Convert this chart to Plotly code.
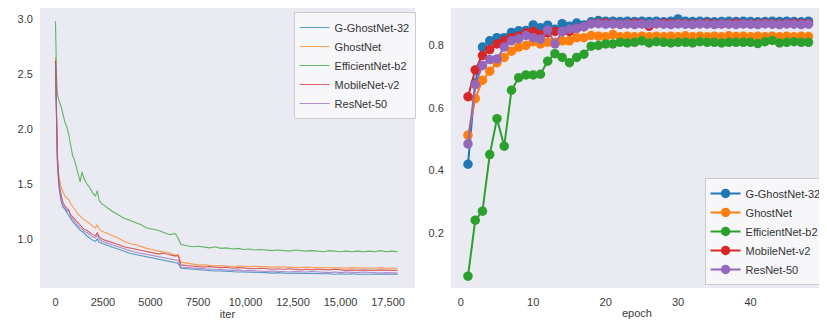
import plotly.graph_objects as go

# ---------------- data ----------------
model_names = ["G-GhostNet-32", "GhostNet", "EfficientNet-b2", "MobileNet-v2", "ResNet-50"]
colors = ["#1f77b4", "#ff7f0e", "#2ca02c", "#d62728", "#9467bd"]

iters = [0, 30, 60, 100, 150, 200, 300, 400, 500, 600, 700, 800, 900, 1000, 1100, 1200, 1300, 1400,
         1500, 1650, 1800, 1950, 2100, 2200, 2300, 2450, 2600, 2800, 3000,
         3300, 3600, 3900, 4200, 4500, 4800, 5100, 5400, 5700, 6000, 6300, 6450,
         6600, 6900, 7200, 7500, 7800, 8100, 8400, 8700, 9000, 9300, 9600, 9900, 10200, 10500,
         10800, 11100, 11400, 11700, 12000, 12300, 12600, 12900, 13200, 13500, 13800, 14100,
         14400, 14700, 15000, 15300, 15600, 15900, 16200, 16500, 16800, 17100, 17400, 17700, 18000]

loss_gghost = [2.58, 2.22, 1.92, 1.70, 1.56, 1.45, 1.34, 1.29, 1.27, 1.24, 1.22, 1.18, 1.16, 1.14, 1.12, 1.09, 1.08, 1.07,
               1.05, 1.03, 1.01, 0.99, 0.98, 1.00, 0.97, 0.96, 0.95, 0.935, 0.925,
               0.91, 0.89, 0.87, 0.86, 0.85, 0.84, 0.83, 0.82, 0.81, 0.80, 0.79, 0.78,
               0.735, 0.73, 0.725, 0.72, 0.715, 0.715, 0.71, 0.71, 0.705, 0.705, 0.70, 0.70, 0.70, 0.695,
               0.695, 0.695, 0.69, 0.695, 0.69, 0.69, 0.69, 0.685, 0.69, 0.685, 0.685, 0.685,
               0.685, 0.68, 0.685, 0.68, 0.685, 0.68, 0.68, 0.68, 0.685, 0.68, 0.68, 0.68, 0.68]
loss_ghost = [2.65, 2.35, 2.05, 1.80, 1.62, 1.55, 1.47, 1.43, 1.39, 1.37, 1.36, 1.32, 1.30, 1.27, 1.25, 1.22, 1.21, 1.19,
              1.18, 1.16, 1.14, 1.12, 1.10, 1.13, 1.09, 1.07, 1.06, 1.04, 1.03,
              1.01, 0.98, 0.96, 0.95, 0.93, 0.915, 0.905, 0.89, 0.885, 0.875, 0.85, 0.86,
              0.79, 0.78, 0.775, 0.765, 0.765, 0.76, 0.755, 0.76, 0.755, 0.75, 0.755, 0.75, 0.75, 0.752,
              0.748, 0.75, 0.745, 0.748, 0.745, 0.748, 0.742, 0.74, 0.745, 0.74, 0.742, 0.74,
              0.738, 0.742, 0.738, 0.736, 0.74, 0.738, 0.735, 0.738, 0.735, 0.74, 0.735, 0.737, 0.735]
loss_effnet = [2.98, 2.65, 2.45, 2.32, 2.28, 2.25, 2.20, 2.12, 2.06, 2.02, 1.95, 1.85, 1.76, 1.72, 1.66, 1.58, 1.52, 1.61,
               1.55, 1.50, 1.47, 1.42, 1.39, 1.44, 1.35, 1.32, 1.30, 1.27, 1.25,
               1.22, 1.19, 1.17, 1.15, 1.13, 1.10, 1.09, 1.08, 1.06, 1.04, 1.05, 1.01,
               0.95, 0.94, 0.93, 0.935, 0.925, 0.92, 0.93, 0.915, 0.92, 0.91, 0.915, 0.905, 0.91, 0.90,
               0.905, 0.90, 0.895, 0.90, 0.895, 0.89, 0.90, 0.895, 0.89, 0.895, 0.89, 0.885,
               0.895, 0.89, 0.885, 0.89, 0.885, 0.89, 0.885, 0.89, 0.885, 0.895, 0.885, 0.89, 0.885]
loss_mobilenet = [2.62, 2.30, 1.98, 1.75, 1.60, 1.50, 1.40, 1.33, 1.30, 1.28, 1.26, 1.22, 1.20, 1.18, 1.16, 1.14, 1.12, 1.11,
                  1.09, 1.08, 1.06, 1.04, 1.03, 1.06, 1.02, 1.00, 0.99, 0.98, 0.97,
                  0.95, 0.93, 0.92, 0.905, 0.895, 0.885, 0.875, 0.865, 0.87, 0.855, 0.845, 0.85,
                  0.765, 0.76, 0.755, 0.75, 0.745, 0.75, 0.745, 0.74, 0.745, 0.735, 0.74, 0.735, 0.735, 0.73,
                  0.735, 0.73, 0.725, 0.73, 0.725, 0.73, 0.725, 0.72, 0.725, 0.72, 0.725, 0.72,
                  0.72, 0.725, 0.72, 0.715, 0.72, 0.715, 0.72, 0.715, 0.715, 0.72, 0.715, 0.715, 0.715]
loss_resnet = [2.60, 2.25, 1.95, 1.72, 1.58, 1.47, 1.36, 1.30, 1.29, 1.25, 1.27, 1.20, 1.18, 1.16, 1.14, 1.11, 1.10, 1.09,
               1.07, 1.06, 1.04, 1.02, 1.01, 1.04, 1.00, 0.98, 0.97, 0.955, 0.945,
               0.93, 0.91, 0.895, 0.88, 0.87, 0.86, 0.85, 0.845, 0.835, 0.825, 0.81, 0.805,
               0.745, 0.74, 0.735, 0.73, 0.73, 0.725, 0.725, 0.72, 0.72, 0.715, 0.72, 0.71, 0.715, 0.71,
               0.71, 0.705, 0.71, 0.705, 0.705, 0.70, 0.705, 0.70, 0.70, 0.705, 0.70, 0.70,
               0.695, 0.70, 0.695, 0.70, 0.695, 0.695, 0.70, 0.695, 0.695, 0.69, 0.695, 0.695, 0.69]

epochs = list(range(1, 49))
acc_gghost = [0.42, 0.68, 0.795, 0.815, 0.825, 0.825, 0.842, 0.847, 0.848, 0.866, 0.857, 0.865, 0.852, 0.870, 0.862, 0.872,
              0.866, 0.876, 0.880, 0.878, 0.878, 0.877, 0.878, 0.877, 0.878, 0.877, 0.878, 0.876, 0.878, 0.885, 0.878, 0.877,
              0.878, 0.877, 0.876, 0.877, 0.878, 0.877, 0.878, 0.877, 0.876, 0.877, 0.878, 0.877, 0.878, 0.877, 0.876, 0.878]
acc_ghost = [0.513, 0.63, 0.689, 0.718, 0.745, 0.762, 0.782, 0.795, 0.800, 0.812, 0.805, 0.810, 0.810, 0.815, 0.815, 0.825,
             0.825, 0.832, 0.830, 0.828, 0.835, 0.828, 0.830, 0.828, 0.830, 0.828, 0.830, 0.828, 0.830, 0.828, 0.831, 0.828,
             0.830, 0.828, 0.830, 0.828, 0.831, 0.829, 0.830, 0.828, 0.830, 0.828, 0.830, 0.828, 0.830, 0.828, 0.830, 0.829]
acc_effnet = [0.062, 0.241, 0.27, 0.451, 0.566, 0.478, 0.657, 0.697, 0.706, 0.706, 0.708, 0.750, 0.774, 0.762, 0.745, 0.762,
              0.772, 0.798, 0.800, 0.805, 0.805, 0.810, 0.808, 0.810, 0.815, 0.808, 0.812, 0.810, 0.808, 0.810, 0.810, 0.808,
              0.812, 0.810, 0.810, 0.808, 0.810, 0.810, 0.810, 0.810, 0.806, 0.812, 0.816, 0.808, 0.810, 0.812, 0.810, 0.810]
acc_mobilenet = [0.636, 0.722, 0.768, 0.787, 0.805, 0.815, 0.825, 0.830, 0.840, 0.845, 0.835, 0.840, 0.845, 0.845, 0.845, 0.855,
                 0.860, 0.870, 0.872, 0.872, 0.870, 0.868, 0.870, 0.871, 0.870, 0.862, 0.870, 0.871, 0.870, 0.871, 0.870, 0.869,
                 0.870, 0.871, 0.870, 0.869, 0.870, 0.871, 0.870, 0.869, 0.870, 0.871, 0.870, 0.869, 0.870, 0.871, 0.870, 0.870]
acc_resnet = [0.485, 0.675, 0.736, 0.755, 0.757, 0.795, 0.815, 0.822, 0.832, 0.825, 0.820, 0.850, 0.805, 0.845, 0.852, 0.855,
              0.860, 0.870, 0.870, 0.868, 0.869, 0.868, 0.869, 0.867, 0.869, 0.868, 0.870, 0.868, 0.867, 0.869, 0.868, 0.867,
              0.869, 0.868, 0.867, 0.869, 0.868, 0.867, 0.869, 0.868, 0.867, 0.869, 0.868, 0.867, 0.869, 0.868, 0.867, 0.868]

loss_series = [loss_gghost, loss_ghost, loss_effnet, loss_mobilenet, loss_resnet]
acc_series = [acc_gghost, acc_ghost, acc_effnet, acc_mobilenet, acc_resnet]

iter_tickvals = [0, 2500, 5000, 7500, 10000, 12500, 15000, 17500]
iter_ticktext = ["0", "2500", "5000", "7500", "10,000", "12,500", "15,000", "17,500"]
loss_tickvals = [1.0, 1.5, 2.0, 2.5, 3.0]
loss_ticktext = ["1.0", "1.5", "2.0", "2.5", "3.0"]
epoch_tickvals = [0, 10, 20, 30, 40, 50]
acc_tickvals = [0.2, 0.4, 0.6, 0.8]
acc_ticktext = ["0.2", "0.4", "0.6", "0.8"]

# ---------------- figure ----------------
# the page body has an 8px margin, so the figure is drawn 8px smaller and positions are offset
OFF = 8
W, H = 827 - OFF, 325 - OFF


def fx(x):
    return (x - OFF) / W


def fy(y):
    return 1 - (y - OFF) / H


def rgba(hexc, a):
    h = hexc.lstrip("#")
    r, g, b = int(h[0:2], 16), int(h[2:4], 16), int(h[4:6], 16)
    return f"rgba({r},{g},{b},{a})"


fig = go.Figure()
for name, col, ys in zip(model_names, colors, loss_series):
    fig.add_trace(go.Scatter(x=iters, y=ys, mode="lines", name=name,
                             line=dict(color=rgba(col, 0.72), width=1.1),
                             xaxis="x", yaxis="y", legend="legend"))
for name, col, ys in zip(model_names, colors, acc_series):
    fig.add_trace(go.Scatter(x=epochs, y=ys, mode="lines+markers", name=name,
                             line=dict(color=col, width=2),
                             marker=dict(color=col, size=9.5),
                             xaxis="x2", yaxis="y2", legend="legend2"))

FONT = "Liberation Sans, Arial, sans-serif"
TXT = "#3a3a3a"
tickfont = dict(family=FONT, size=11, color=TXT)
BG = "#EAEAF2"

common_axis = dict(showgrid=False, zeroline=False, showline=False, ticks="", tickfont=tickfont)

fig.update_layout(
    width=W, height=H,
    margin=dict(l=0, r=0, t=0, b=0),
    paper_bgcolor="white",
    plot_bgcolor=BG,
    font=dict(family=FONT, size=11, color=TXT),
    xaxis=dict(domain=[fx(40), fx(417)], range=[-822, 18917], anchor="y",
               tickvals=iter_tickvals, ticktext=iter_ticktext,
               title=dict(text="iter", font=dict(family=FONT, size=11, color=TXT), standoff=2),
               ticklabelstandoff=6, **common_axis),
    yaxis=dict(domain=[fy(288), fy(8)], range=[0.555, 3.1], anchor="x",
               tickvals=loss_tickvals, ticktext=loss_ticktext, ticklabelstandoff=6, **common_axis),
    xaxis2=dict(domain=[fx(453), 1.0], range=[-1.37, 50.0], anchor="y2",
                tickvals=epoch_tickvals,
                title=dict(text="epoch", font=dict(family=FONT, size=11, color=TXT), standoff=2),
                ticklabelstandoff=6, **common_axis),
    yaxis2=dict(domain=[fy(288), fy(8)], range=[0.024, 0.92], anchor="x2",
                tickvals=acc_tickvals, ticktext=acc_ticktext, ticklabelstandoff=6, **common_axis),
    legend=dict(x=fx(295), y=fy(12), xanchor="left", yanchor="top",
                bgcolor="rgba(248,248,251,0.9)", bordercolor="#cccccc", borderwidth=1,
                font=dict(family=FONT, size=11, color="#333333"), itemwidth=30,
                tracegroupgap=0),
    legend2=dict(x=fx(708), y=fy(285), xanchor="left", yanchor="bottom",
                 bgcolor="rgba(248,248,251,0.9)", bordercolor="#cccccc", borderwidth=1,
                 font=dict(family=FONT, size=11, color="#333333"), itemwidth=30,
                 tracegroupgap=0),
    showlegend=True,
)

fig.write_html("out.html")
